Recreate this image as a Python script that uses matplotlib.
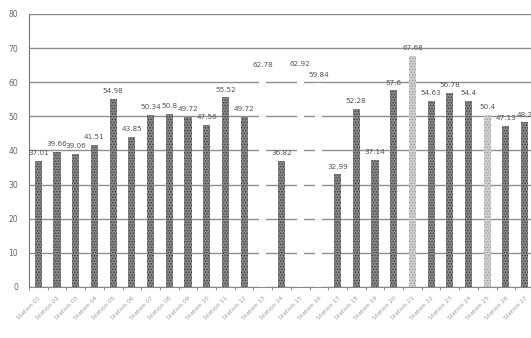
import matplotlib
matplotlib.use("Agg")
import matplotlib.pyplot as plt
import numpy as np

# scores per site; three of the bars are printed in white
values = [37.01, 39.66, 39.06, 41.51, 54.98, 43.85, 50.34, 50.8, 49.72, 47.56,
          55.52, 49.72, 62.78, 36.82, 62.92, 59.84, 32.99, 52.28, 37.14, 57.6,
          67.68, 54.63, 56.78, 54.4, 50.4, 47.13, 48.2]
shade = ["dark"] * 12 + ["white", "dark", "white", "white"] + ["dark"] * 4 + \
        ["light", "dark", "dark", "dark", "light", "dark", "dark"]
sites = ["Station %02d" % (i + 1) for i in range(len(values))]
yticks = [0, 10, 20, 30, 40, 50, 60, 70, 80]

fills = {"dark": "#858585", "light": "#cfcfcf", "white": "#ffffff"}
hatches = {"dark": "#404040", "light": "#9a9a9a", "white": "#ffffff"}

plt.rcParams["hatch.linewidth"] = 0.6

fig = plt.figure(figsize=(5.31, 3.38), dpi=100)
ax = fig.add_axes([0.0546, 0.151, 0.951, 0.8077])

x = np.arange(len(values))
for xi, v, s in zip(x, values, shade):
    ax.bar(xi, v, width=0.38, color=fills[s], edgecolor=hatches[s],
           linewidth=0, hatch="......", zorder=3)
    ax.annotate(f"{v:g}", (xi, v), xytext=(0, 3.5), textcoords="offset points",
                ha="center", va="bottom", fontsize=5.2, color="#555555", zorder=4)

ax.set_xlim(-0.5, len(values) - 0.5)
ax.set_ylim(0, 80)
ax.set_yticks(yticks)
ax.yaxis.grid(True, color="#8f8f8f", linewidth=1.0, zorder=0)
ax.tick_params(axis="y", length=0, pad=8, labelsize=5.5, labelcolor="#666666")

ax.set_xticks(x)
ax.set_xticklabels(sites, rotation=45, ha="right", rotation_mode="anchor",
                   fontsize=4.3, color="#999999")
ax.tick_params(axis="x", length=0, pad=6)
ax.set_xticks(np.arange(len(values) + 1) - 0.5, minor=True)
ax.tick_params(axis="x", which="minor", length=2, width=0.6, color="#777777")

for side in ["top", "right"]:
    ax.spines[side].set_visible(False)
ax.spines["left"].set_color("#777777")
ax.spines["bottom"].set_color("#888888")
ax.spines["left"].set_linewidth(0.8)
ax.spines["bottom"].set_linewidth(0.8)

fig.savefig("out.png", dpi=100)
